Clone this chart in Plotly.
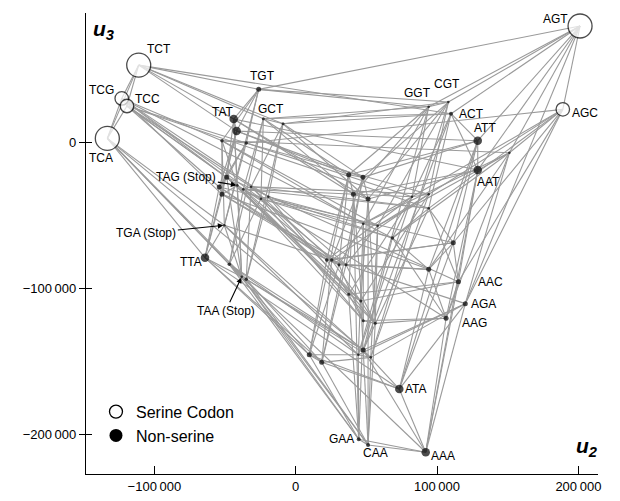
import plotly.graph_objects as go

# ---------------- data ----------------
serine_codons = ["TCT", "TCG", "TCC", "TCA", "AGT", "AGC"]
serine_u2 = [-111100, -123100, -119400, -133300, 201200, 189000]
serine_u3 = [52900, 30100, 24900, 2700, 79700, 22600]

other_codons = ["TGT", "TAT", "TTT", "GCT", "CCT", "TGG", "TGC", "TAC", "TTC", "TTG",
                "TAG", "GCC", "CCC", "GCG", "CCG", "TGA", "TTA", "GCA", "TAA", "CCA",
                "GGT", "CGT", "ACT", "ATT", "AAT", "AGG", "GTT", "CTT", "GAT", "CAT",
                "GGC", "CGC", "ACC", "GGG", "CGG", "ACG", "ATC", "GTC", "CTC", "GTG",
                "CTG", "ATG", "AAC", "AGA", "AAG", "GAC", "CAC", "GAG", "CAG", "GTA",
                "CTA", "ACA", "GGA", "CGA", "ATA", "GAA", "CAA", "AAA"]
other_u2 = [-26200, -43900, -41800, -22900, -9000, -52200, -35000, -48800, -54100, -52200,
            -41300, -37100, -31600, -24600, -19400, -50500, -64200, -47000, -38200, -35000,
            94100, 108000, 109900, 128800, 128800, 151200, 37500, 47600, 40800, 51200,
            82300, 94100, 94100, 47800, 58000, 68400, 111500, 21900, 25500, 30600,
            35600, 94100, 115100, 120000, 106400, 37500, 46000, 47800, 56300, 9600,
            18400, 47800, 44300, 53100, 73300, 44600, 51200, 92000]
other_u3 = [36300, 16000, 7700, 16200, 12700, 1100, -500, -24000, -30600, -35600,
            -29500, -32200, -30400, -38600, -37300, -56800, -79000, -83600, -92100, -93800,
            24400, 27600, 19600, 1100, -19000, -7100, -22200, -24000, -35600, -38800,
            -37300, -35600, -45200, -55800, -57100, -65500, -68800, -80600, -80600, -83800,
            -83800, -87000, -95500, -110500, -120500, -104100, -108700, -122200, -124000, -145500,
            -150700, -142300, -145500, -147300, -169000, -203400, -207300, -212300]

x_tickvals = [-100000, 0, 100000, 200000]
x_ticktext = ["\u2212100\u2009000", "0", "100\u2009000", "200\u2009000"]
y_tickvals = [-200000, -100000, 0]
y_ticktext = ["\u2212200\u2009000", "\u2212100\u2009000", "0"]

# ---------------- styling ----------------
serine_px = {"TCT": 24, "TCG": 13.5, "TCC": 13.5, "TCA": 24, "AGT": 24, "AGC": 13.5}
size_groups = {
    8.5: ["TAT", "TTT", "ATT", "AAT", "ATA", "AAA", "TTA"],
    5: ["TGT", "TAC", "TTC", "TTG", "GTT", "CTT", "GAT", "CAT", "ATC", "ATG", "AAC",
        "AGA", "AAG", "GTA", "CTA", "ACA"],
    4: ["GAA", "CAA", "ACT"],
    3.5: ["TGG", "TGC", "GCA", "CCA", "ACG", "GTC", "CTC"],
    3: ["GCT", "CCT", "GTG", "CTG", "GAC", "CAC", "GAG", "CAG"],
}
other_px = []
for c in other_codons:
    s = 2.6
    for k, v in size_groups.items():
        if c in v:
            s = k
    other_px.append(s)

FONT = "Liberation Sans, Arial, Helvetica, sans-serif"
X_RANGE = [-148400, 213900]
Y_RANGE = [-227200, 88600]

# edges: codons differing by a single nucleotide
all_codons = serine_codons + other_codons
all_u2 = serine_u2 + other_u2
all_u3 = serine_u3 + other_u3
ex, ey = [], []
n = len(all_codons)
for i in range(n):
    for j in range(i + 1, n):
        if sum(a != b for a, b in zip(all_codons[i], all_codons[j])) == 1:
            ex += [all_u2[i], all_u2[j], None]
            ey += [all_u3[i], all_u3[j], None]

fig = go.Figure()
fig.add_trace(go.Scatter(x=ex, y=ey, mode="lines",
                         line=dict(color="#9a9a9a", width=1.1),
                         hoverinfo="skip", showlegend=False))
fig.add_trace(go.Scatter(x=other_u2, y=other_u3, mode="markers", text=other_codons,
                         marker=dict(color="black", size=other_px, line=dict(width=0)),
                         showlegend=False))
fig.add_trace(go.Scatter(x=serine_u2, y=serine_u3, mode="markers", text=serine_codons,
                         marker=dict(color="white", size=[serine_px[c] for c in serine_codons],
                                     line=dict(color="black", width=1.3)),
                         showlegend=False))
# legend entries
fig.add_trace(go.Scatter(x=[None], y=[None], mode="markers", name="Serine Codon",
                         marker=dict(color="white", size=13, line=dict(color="black", width=1.3))))
fig.add_trace(go.Scatter(x=[None], y=[None], mode="markers", name="Non-serine",
                         marker=dict(color="black", size=13)))
# carrier for the inner half of the y ticks
fig.add_trace(go.Scatter(x=[None], y=[None], yaxis="y2", showlegend=False, hoverinfo="skip"))

# node labels (pixel offsets from node)
label_shift = {
    "TCT": (20, 16.5), "TCG": (-20, 8), "TCC": (21, 6.5), "TCA": (-6, -20),
    "AGT": (-25, 6.5), "AGC": (22, -4), "TGT": (4, 13), "TAT": (-11, 7),
    "GCT": (8, 10), "GGT": (-11, 14), "CGT": (-1, 18.5), "ACT": (20, 0),
    "ATT": (7, 13), "AAT": (11, -11.5), "AAC": (32, 0), "AGA": (18, 0),
    "AAG": (28.5, -4.7), "ATA": (17, 0), "GAA": (-17, 0), "CAA": (7.5, -8),
    "AAA": (17, -4), "TTA": (-13.5, -4),
}
ann = []
for c, (dx, dy) in label_shift.items():
    i = all_codons.index(c)
    ann.append(dict(x=all_u2[i], y=all_u3[i], text=c, showarrow=False,
                    xanchor="center", yanchor="middle",
                    xshift=dx, yshift=dy, font=dict(family=FONT, size=12, color="black")))

stop_arrows = {"TAG": (-51, -8.5), "TGA": (-78, 8), "TAA": (-16, 34)}
for c, (axp, ayp) in stop_arrows.items():
    i = all_codons.index(c)
    ann.append(dict(x=all_u2[i], y=all_u3[i], text=c + " (Stop)", showarrow=True,
                    ax=axp, ay=ayp, arrowhead=2, arrowsize=1, arrowwidth=1.1,
                    arrowcolor="black", standoff=1,
                    font=dict(family=FONT, size=12, color="black")))

ann.append(dict(xref="paper", yref="paper", x=0.034, y=0.963,
                xanchor="center", yanchor="middle",
                text="<b><i>u<sub>3</sub></i></b>", showarrow=False,
                font=dict(family=FONT, size=21, color="black")))
ann.append(dict(xref="paper", yref="paper", x=0.978, y=0.059,
                xanchor="center", yanchor="middle",
                text="<b><i>u<sub>2</sub></i></b>", showarrow=False,
                font=dict(family=FONT, size=21, color="black")))

# the page body keeps its default 8px margin, so the figure is sized to fit inside it
fig.update_layout(
    width=612, height=493,
    margin=dict(l=78, r=22, t=5, b=27),
    plot_bgcolor="white", paper_bgcolor="white",
    font=dict(family=FONT, size=13, color="black"),
    annotations=ann,
    legend=dict(x=0.0195, y=0.172, xanchor="left", yanchor="top",
                font=dict(family=FONT, size=16, color="black"),
                bgcolor="rgba(0,0,0,0)", itemsizing="trace", tracegroupgap=0),
    xaxis=dict(range=X_RANGE, showgrid=False, zeroline=False, automargin=False,
               showline=True, linecolor="black", linewidth=1.2,
               ticks="inside", ticklen=8, tickwidth=1.2, tickcolor="black",
               tickvals=x_tickvals, ticktext=x_ticktext,
               tickfont=dict(family=FONT, size=13, color="black")),
    yaxis=dict(range=Y_RANGE, showgrid=False, zeroline=False, automargin=False,
               showline=True, linecolor="black", linewidth=1.2,
               ticks="outside", ticklen=6, tickwidth=1.2, tickcolor="black",
               tickvals=y_tickvals, ticktext=y_ticktext,
               tickfont=dict(family=FONT, size=13, color="black")),
    yaxis2=dict(range=Y_RANGE, overlaying="y", side="left", anchor="x",
                showgrid=False, zeroline=False, automargin=False, showline=False,
                ticks="inside", ticklen=6, tickwidth=1.2, tickcolor="black",
                tickvals=y_tickvals, showticklabels=False),
)

fig.write_html("out.html")
